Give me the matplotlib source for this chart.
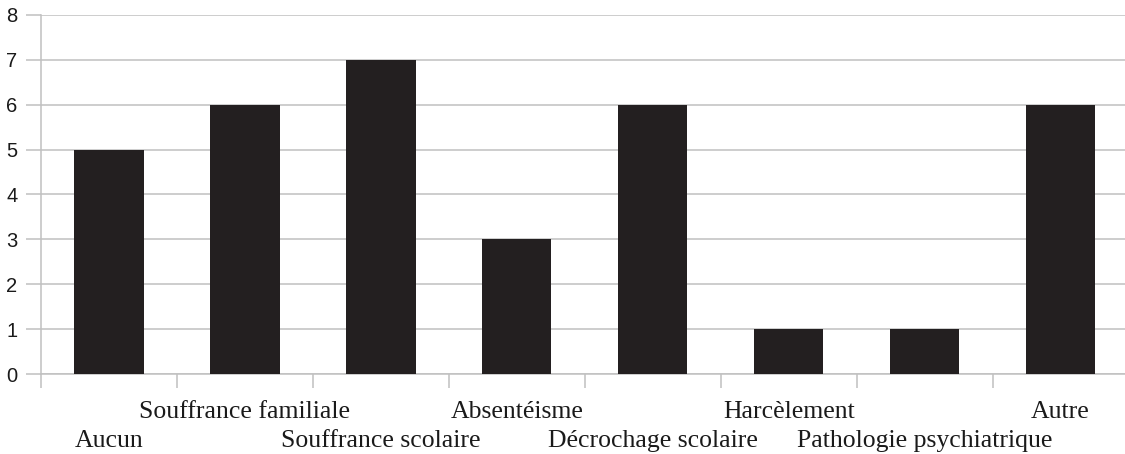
import matplotlib.pyplot as plt

categories = ["Aucun", "Souffrance familiale", "Souffrance scolaire", "Absentéisme",
              "Décrochage scolaire", "Harcèlement", "Pathologie psychiatrique", "Autre"]
values = [5, 6, 7, 3, 6, 1, 1, 6]
y_ticks = [0, 1, 2, 3, 4, 5, 6, 7, 8]

fig = plt.figure(figsize=(11.25, 4.54), dpi=100)
ax_h = 359
ax = fig.add_axes([41 / 1125, 80 / 454, 1087.5 / 1125, ax_h / 454])

x = list(range(len(categories)))
ax.bar(x, values, width=0.51, color="#231f20", zorder=3)

ax.set_xlim(-0.5, len(categories) - 0.5)
ax.set_ylim(0, 8)
ax.set_yticks(y_ticks)
ax.yaxis.grid(True, color="#c0c0c0", linewidth=1.1, zorder=0)
ax.tick_params(axis="y", length=11, color="#c0c0c0", width=1.1, pad=6, labelsize=14.5)
for lab in ax.get_yticklabels():
    lab.set_family("Liberation Sans")
    lab.set_color("#1a1a1a")

# staggered category labels (baselines 44px / 73px below the axis)
ax.set_xticks([])
for i, c in enumerate(categories):
    yb = -44 / ax_h if i % 2 == 1 else -73 / ax_h
    ax.text(i, yb, c, transform=ax.get_xaxis_transform(), ha="center", va="baseline",
            family="Liberation Serif", fontsize=18.5, color="#1a1a1a")
ax.set_xticks([i - 0.5 for i in range(len(categories) + 1)], minor=True)
ax.tick_params(axis="x", which="minor", length=10, color="#c0c0c0", width=1.1)

for side in ["top", "right"]:
    ax.spines[side].set_visible(False)
for side in ["left", "bottom"]:
    ax.spines[side].set_color("#c0c0c0")
    ax.spines[side].set_linewidth(1.1)

fig.savefig("out.png", dpi=100)
